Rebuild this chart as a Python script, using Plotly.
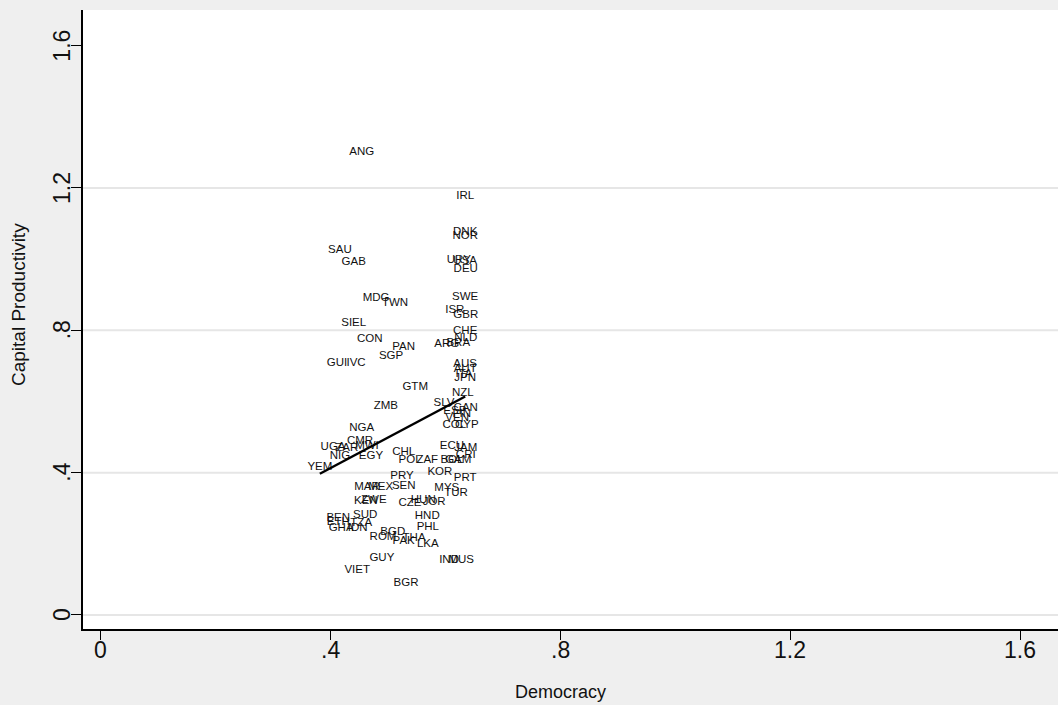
import numpy as np
import plotly.graph_objects as go

# Country codes with democracy index and capital productivity
countries = [
    "ANG", "IRL", "DNK", "NOR", "SAU", "GAB", "URY", "USA", "DEU", "SWE",
    "MDG", "TWN", "ISR", "GBR", "SIEL", "CHE", "NLD", "CON", "ARG", "BRA",
    "PAN", "SGP", "GUI", "IVC", "AUS", "AUT", "ITA", "JPN", "GTM", "NZL",
    "SLV", "CAN", "ZMB", "ESP", "FIN", "VEN", "COL", "CYP", "NGA", "CMR",
    "MWI", "ECU", "JAM", "UGA", "ZAR", "CHL", "CRI", "NIG", "EGY", "POL",
    "ZAF", "BOL", "GAM", "YEM", "KOR", "PRY", "PRT", "MAR", "MEX", "SEN",
    "MYS", "TUR", "ZWE", "KEN", "HUN", "JOR", "CZE", "SUD", "HND", "BEN",
    "ETH", "TZA", "PHL", "GHA", "IDN", "BGD", "ROM", "THA", "PAK", "LKA",
    "GUY", "IND", "MUS", "VIET", "BGR",
]

democracy = [
    0.454, 0.634, 0.634, 0.634, 0.416, 0.440, 0.623, 0.634, 0.635, 0.634,
    0.479, 0.512, 0.616, 0.635, 0.440, 0.634, 0.635, 0.468, 0.602, 0.622,
    0.527, 0.505, 0.411, 0.444, 0.634, 0.634, 0.632, 0.634, 0.547, 0.630,
    0.597, 0.635, 0.496, 0.616, 0.628, 0.620, 0.615, 0.637, 0.454, 0.451,
    0.463, 0.611, 0.635, 0.404, 0.428, 0.527, 0.635, 0.416, 0.470, 0.538,
    0.568, 0.611, 0.622, 0.381, 0.590, 0.524, 0.634, 0.463, 0.487, 0.527,
    0.602, 0.618, 0.475, 0.461, 0.561, 0.580, 0.538, 0.460, 0.568, 0.413,
    0.413, 0.453, 0.569, 0.418, 0.447, 0.508, 0.491, 0.545, 0.527, 0.569,
    0.489, 0.606, 0.627, 0.446, 0.531,
]

capital_productivity = [
    1.301, 1.178, 1.076, 1.065, 1.026, 0.992, 0.998, 0.995, 0.972, 0.894,
    0.891, 0.877, 0.857, 0.843, 0.821, 0.798, 0.779, 0.776, 0.762, 0.764,
    0.753, 0.728, 0.708, 0.708, 0.705, 0.691, 0.677, 0.666, 0.641, 0.624,
    0.596, 0.582, 0.587, 0.573, 0.565, 0.554, 0.534, 0.534, 0.526, 0.489,
    0.475, 0.475, 0.469, 0.472, 0.469, 0.458, 0.450, 0.447, 0.447, 0.436,
    0.436, 0.436, 0.436, 0.416, 0.402, 0.391, 0.385, 0.360, 0.360, 0.363,
    0.357, 0.343, 0.323, 0.320, 0.323, 0.318, 0.315, 0.281, 0.278, 0.273,
    0.261, 0.259, 0.247, 0.245, 0.245, 0.233, 0.219, 0.216, 0.208, 0.200,
    0.160, 0.155, 0.155, 0.126, 0.090,
]

# Fitted linear trend: capital productivity = intercept + slope * democracy
fit_intercept = 0.070
fit_slope = 0.858

tick_values = [0, 0.4, 0.8, 1.2, 1.6]
tick_labels = ["0", ".4", ".8", "1.2", "1.6"]
grid_values = [0, 0.4, 0.8, 1.2]

x = np.array(democracy)
fit_x = np.array([x.min(), 0.634])
fit_y = fit_intercept + fit_slope * fit_x

fig = go.Figure()

fig.add_trace(go.Scatter(
    x=democracy, y=capital_productivity, mode="text", text=countries,
    textposition="middle center",
    textfont=dict(family="Liberation Sans, Arial", size=11.5, color="#111111"),
    hoverinfo="text", showlegend=False,
))

fig.add_trace(go.Scatter(
    x=fit_x, y=fit_y, mode="lines",
    line=dict(color="black", width=2.5), showlegend=False,
))

for g in grid_values:
    fig.add_shape(type="line", xref="paper", x0=0, x1=1, yref="y", y0=g, y1=g,
                  line=dict(color="#e6e6e6", width=2), layer="below")

font_family = "Liberation Sans, Arial"
axis_font = dict(family=font_family, size=23, color="#111111")

# Tick labels placed just beyond the tick marks
for v, lab in zip(tick_values, tick_labels):
    fig.add_annotation(text=lab, xref="x", yref="paper", x=v, y=-0.034,
                       xanchor="center", yanchor="middle", showarrow=False,
                       font=axis_font)
    fig.add_annotation(text=lab, xref="paper", yref="y", x=-0.0215, y=v,
                       xanchor="center", yanchor="middle", textangle=-90,
                       showarrow=False, font=axis_font)

fig.add_annotation(text="Democracy", xref="paper", yref="paper",
                   x=0.490, y=-0.102, xanchor="center", yanchor="middle",
                   showarrow=False, font=dict(family=font_family, size=18, color="#111111"))
fig.add_annotation(text="Capital Productivity", xref="paper", yref="paper",
                   x=-0.0667, y=0.525, xanchor="center", yanchor="middle",
                   textangle=-90, showarrow=False,
                   font=dict(family=font_family, size=19, color="#111111"))

fig.update_layout(
    width=1058, height=705,
    margin=dict(l=83, r=0, t=10, b=76),
    paper_bgcolor="#efefef",
    plot_bgcolor="white",
    xaxis=dict(
        range=[-0.0313, 1.666], tickvals=tick_values, showticklabels=False,
        showgrid=False, zeroline=False, showline=True, linecolor="black",
        linewidth=1.5, ticks="outside", ticklen=9, tickcolor="black",
    ),
    yaxis=dict(
        range=[-0.0394, 1.70], tickvals=tick_values, showticklabels=False,
        showgrid=False, zeroline=False, showline=True, linecolor="black",
        linewidth=1.5, ticks="outside", ticklen=10, tickcolor="black",
    ),
)

fig.write_html("out.html")
